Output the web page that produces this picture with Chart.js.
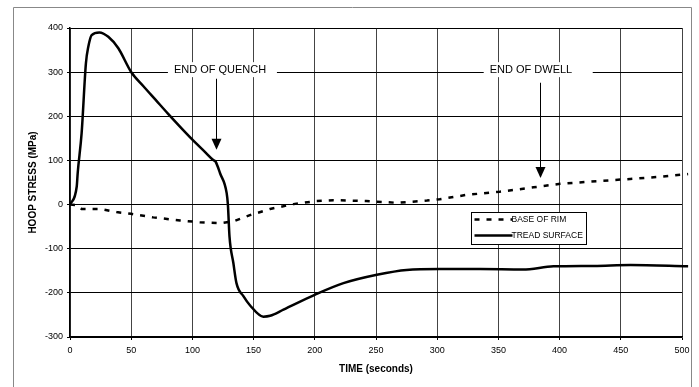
<!DOCTYPE html>
<html>
<head>
<meta charset="utf-8">
<script src="https://cdn.jsdelivr.net/npm/chart.js@4/dist/chart.umd.min.js"></script>
<style>
html,body{margin:0;padding:0;background:#fff;}
#wrap{position:relative;width:699px;height:387px;}
</style>
</head>
<body>
<div id="wrap"><canvas id="c" width="699" height="387"></canvas></div>
<script>
// ---- data ----
const treadTime   = [0,5.5,6.3,9.5,13,15,17.7,24,31.3,39.5,49.8,60,70,80,90,100,110,117,119,122.6,128,129,130.3,133.5,136,141.8,147,158,163.5,174.4,200.3,223.4,250.7,275,302,335,370,395,428,458,505];
const treadStress = [0,41,72,162,320,358,384,390,380,354,301,268,237,206,176,147,120,101,97,71,26,0,-72,-133,-178,-208,-228,-254,-252,-238,-204,-178,-159,-148,-146,-146,-147,-140,-139,-137,-140];
const rimTime     = [0,5.5,9.5,24.5,38,50,68,90,106,122.6,133.5,147,163.5,182.5,201.6,215,242,267,291.6,302,324,351,378.7,400.5,425,457.7,482,505];
const rimStress   = [0,-1,-10,-10,-17,-21,-29,-36,-40,-42,-38,-24,-10,1,8,10,8,4,9,12,22,29,39,47,52,58,63,69];
const seriesLabels = ["BASE OF RIM","TREAD SURFACE"];
const xTicks = [0,50,100,150,200,250,300,350,400,450,500];
const yTicks = [-300,-200,-100,0,100,200,300,400];
const annotations = [
  {text:"END OF QUENCH", boxStart:80, labelY:300, arrowX:119.3, arrowFrom:285, arrowTo:124},
  {text:"END OF DWELL",  boxStart:338, labelY:300, arrowX:384, arrowFrom:276, arrowTo:60}
];

function pts(xs, ys){ return xs.map((x,i)=>({x:x,y:ys[i]})); }

const FONT = "'Liberation Sans', Arial, sans-serif";

const decor = {
  id:'decor',
  beforeDraw(chart){
    const ctx = chart.ctx;
    ctx.save();
    ctx.fillStyle = '#fff';
    ctx.fillRect(0,0,chart.width,chart.height);
    ctx.strokeStyle = '#888';
    ctx.lineWidth = 1;
    ctx.beginPath();
    ctx.moveTo(13.5, 400); ctx.lineTo(13.5, 7.5); ctx.lineTo(691.5, 7.5); ctx.lineTo(691.5, 400);
    ctx.stroke();
    ctx.restore();
  },
  afterDraw(chart){
    const ctx = chart.ctx;
    const xs = chart.scales.x, ys = chart.scales.y;
    ctx.save();
    annotations.forEach(a=>{
      const bx = xs.getPixelForValue(a.boxStart);
      const cy = ys.getPixelForValue(a.labelY) - 2;
      ctx.fillStyle = '#fff';
      ctx.fillRect(bx, cy-8, 109, 15);
      ctx.fillStyle = '#000';
      ctx.font = "11px " + FONT;
      ctx.textBaseline = 'middle';
      ctx.textAlign = 'left';
      ctx.fillText(a.text, bx+6, cy);
      const ax = Math.round(xs.getPixelForValue(a.arrowX)) + 0.5;
      const y1 = ys.getPixelForValue(a.arrowFrom);
      const y2 = ys.getPixelForValue(a.arrowTo);
      ctx.strokeStyle = '#000';
      ctx.lineWidth = 1;
      ctx.beginPath(); ctx.moveTo(ax, y1); ctx.lineTo(ax, y2-10); ctx.stroke();
      ctx.beginPath();
      ctx.moveTo(ax-5, y2-11); ctx.lineTo(ax+5, y2-11); ctx.lineTo(ax, y2); ctx.closePath();
      ctx.fill();
    });
    const lx = 471.5, ly = 212.5, lw = 115, lh = 32;
    ctx.fillStyle = '#fff';
    ctx.fillRect(lx, ly, lw, lh);
    ctx.strokeStyle = '#000';
    ctx.lineWidth = 1;
    ctx.strokeRect(lx, ly, lw, lh);
    chart.data.datasets.forEach((ds,i)=>{
      const yy = ly + 7 + i*16;
      ctx.save();
      ctx.strokeStyle = ds.borderColor;
      ctx.lineWidth = ds.borderWidth;
      ctx.setLineDash(ds.borderDash || []);
      ctx.beginPath(); ctx.moveTo(lx+3, yy); ctx.lineTo(lx+41, yy); ctx.stroke();
      ctx.restore();
      ctx.fillStyle = '#000';
      ctx.font = "8.5px " + FONT;
      ctx.textBaseline = 'middle';
      ctx.textAlign = 'left';
      ctx.fillText(ds.label, lx+40, yy+0.5);
    });
    ctx.restore();
  }
};

new Chart(document.getElementById('c'), {
  type:'line',
  data:{
    datasets:[
      {label:seriesLabels[0], data:pts(rimTime, rimStress), borderColor:'#000', borderWidth:2.5, borderDash:[5,7], pointRadius:0, tension:0, clip:false, fill:false},
      {label:seriesLabels[1], data:pts(treadTime, treadStress), borderColor:'#000', borderWidth:2.5, pointRadius:0, cubicInterpolationMode:'monotone', clip:false, fill:false}
    ]
  },
  options:{
    responsive:false,
    animation:false,
    events:[],
    layout:{padding:{left:0, top:28, right:17, bottom:0}},
    plugins:{legend:{display:false}, tooltip:{enabled:false}},
    scales:{
      x:{
        type:'linear', min:0, max:500,
        afterBuildTicks(s){ s.ticks = xTicks.map(v=>({value:v})); },
        afterFit(s){ s.height = 50; },
        grid:{color:'#444', lineWidth:1, tickLength:3, tickColor:'#000'},
        border:{display:true, color:'#000', width:1.5},
        ticks:{font:{family:FONT, size:9}, color:'#000', padding:5, maxRotation:0},
        title:{display:true, text:'TIME (seconds)', font:{family:FONT, size:10, weight:'bold'}, color:'#000', padding:{top:0,bottom:12}}
      },
      y:{
        type:'linear', min:-300, max:400,
        afterBuildTicks(s){ s.ticks = yTicks.map(v=>({value:v})); },
        afterFit(s){ s.width = 70; },
        grid:{color:'#000', lineWidth:1, tickLength:3, tickColor:'#000'},
        border:{display:true, color:'#000', width:1.5},
        ticks:{font:{family:FONT, size:9}, color:'#000', padding:4},
        title:{display:true, text:'HOOP STRESS (MPa)', font:{family:FONT, size:10, weight:'bold'}, color:'#000', padding:{top:27,bottom:0}}
      }
    }
  },
  plugins:[decor]
});
</script>
</body>
</html>
